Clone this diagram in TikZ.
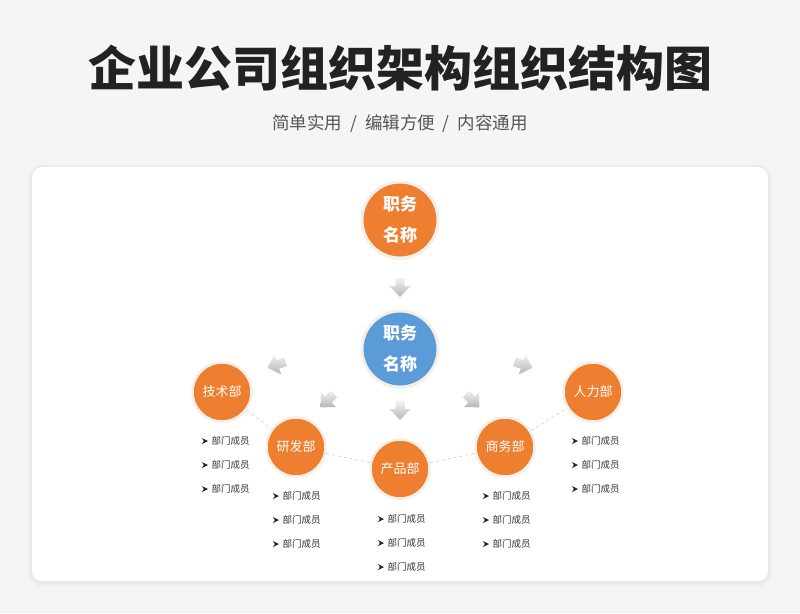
\documentclass[tikz,border=0pt]{standalone}
\usepackage{fontspec}
\setmainfont{Noto Sans CJK SC}
\usetikzlibrary{shadows}
\definecolor{bgc}{HTML}{F4F5F7}
\definecolor{orangec}{HTML}{EE7F30}
\definecolor{bluec}{HTML}{5B9BD8}
\definecolor{ringc}{HTML}{F6EFE9}
\definecolor{titlec}{HTML}{222222}
\definecolor{subc}{HTML}{555555}
\definecolor{itemc}{HTML}{333333}
\tikzset{
  bigcirc/.style={circle, draw=ringc, line width=3pt, minimum size=76pt, inner sep=0pt,
    text=white, align=center, font=\fontsize{17}{31}\selectfont\bfseries,
    circular drop shadow={shadow xshift=0pt, shadow yshift=-1pt, opacity=0.18, shadow scale=1.04}},
  deptc/.style={circle, fill=orangec, draw=ringc, line width=2.5pt, minimum size=59pt, inner sep=0pt,
    text=white, font=\fontsize{13}{15}\selectfont,
    circular drop shadow={shadow xshift=0pt, shadow yshift=-1pt, opacity=0.15, shadow scale=1.04}},
  itemt/.style={anchor=west, inner sep=0pt, text=itemc, font=\fontsize{9.5}{11}\selectfont},
  link/.style={draw=gray!40, dashed, line width=0.6pt},
  garrow/.pic={
    \path[top color=gray!10, bottom color=gray!58]
      (-4.5,-10) -- (4.5,-10) -- (4.5,-2) -- (10.5,-2) -- (0,9) -- (-10.5,-2) -- (-4.5,-2) -- cycle;
  }
}
\begin{document}
\begin{tikzpicture}[x=1pt,y=-1pt]
\useasboundingbox (0,0) rectangle (800,613);
\fill[bgc] (0,0) rectangle (800,613);
% card shadow and card
\fill[black, opacity=0.025, rounded corners=14] (28,165) rectangle (772,587);
\fill[black, opacity=0.025, rounded corners=12] (30,166) rectangle (770,584);
\fill[white, rounded corners=10] (32,167) rectangle (768,581);

% title
\node[text=titlec, font=\fontsize{48}{52}\selectfont\bfseries] (title) at (400,68) {企业公司组织架构组织结构图};
\node[text=subc, font=\fontsize{17.5}{20}\selectfont] (sub) at (400,124) {简单实用\ \ /\ \ 编辑方便\ \ /\ \ 内容通用};

% main circles
\node[bigcirc, fill=orangec] (top) at (400,220) {职务\\名称};
\node[bigcirc, fill=bluec] (mid) at (400,349) {职务\\名称};

% departments
\node[deptc] (tech) at (222,392) {技术部};
\node[deptc] (rd)   at (296,447) {研发部};
\node[deptc] (cp)   at (400,469) {产品部};
\node[deptc] (sw)   at (505,447) {商务部};
\node[deptc] (hr)   at (593,392) {人力部};

% dashed links
\draw[link] (tech) -- (rd);
\draw[link] (rd) -- (cp);
\draw[link] (cp) -- (sw);
\draw[link] (sw) -- (hr);

% gray arrows
\pic at (400,288) {garrow};
\pic[rotate=-72] at (276,365) {garrow};
\pic[rotate=-45] at (327,401) {garrow};
\pic at (400,411) {garrow};
\pic[rotate=45] at (473,401) {garrow};
\pic[rotate=72] at (524,365) {garrow};

% member lists
\foreach \nm/\bx/\by in {t/202/441, r/273/496, p/378/519, s/483/496, h/572/441}{
  \foreach \k in {0,1,2}{
    \pgfmathsetmacro{\yy}{\by+24*\k}
    \fill[black!85] (\bx,\yy-3) -- (\bx+6,\yy) -- (\bx,\yy+3) -- (\bx+1.8,\yy) -- cycle;
    \node[itemt] (\nm\k) at (\bx+9.5,\yy) {部门成员};
  }
}
\end{tikzpicture}
\end{document}
